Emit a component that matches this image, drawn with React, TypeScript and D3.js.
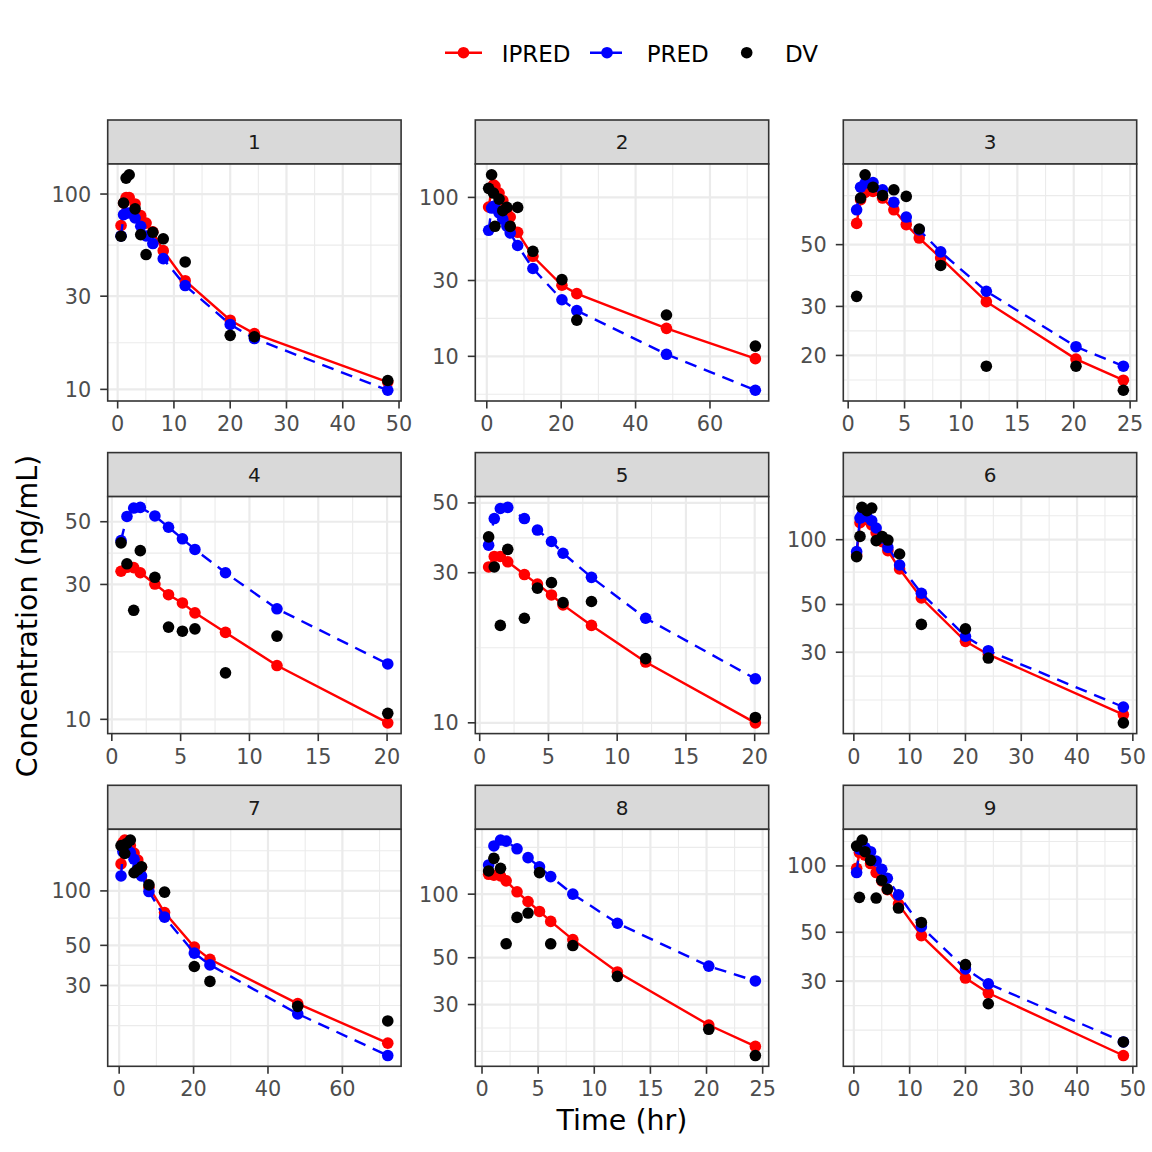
import React from "react";
import * as d3 from "d3";

// ---------------- data ----------------
const panelIds = ["1", "2", "3", "4", "5", "6", "7", "8", "9"];

const time1 = [0.6, 1.05, 1.5, 2.05, 3.1, 4.1, 5.05, 6.25, 8.1, 12, 20, 24.3, 48];
const dv1 = [60.8, 90, 120.7, 125.5, 84, 62, 49, 63.7, 59, 44.9, 18.9, 18.6, 11.1];
const ipred1 = [69, 90, 96, 96, 89, 77.5, 71, 64, 51.3, 36, 22.6, 19.3, 10.9];
const pred1 = [61, 78.4, 80, 80, 75.4, 68.4, 61, 55.8, 46.7, 34, 21.5, 18.2, 9.9];

const time2 = [0.5, 1.3, 1.8, 2.2, 3.3, 4.3, 5.4, 6.3, 8.3, 12.4, 20.2, 24.2, 48.3, 72.2];
const dv2 = [114, 138.8, 106.5, 65.8, 97.6, 82.5, 86.5, 65.7, 86.5, 45.8, 30.4, 16.9, 18.2, 11.6];
const ipred2 = [87, 112, 120, 118, 106.5, 95.7, 84, 75.3, 60.3, 42.6, 28.0, 24.8, 15.0, 9.67];
const pred2 = [62.1, 85.7, 88, 86, 80, 73, 66, 59.7, 49.8, 35.7, 22.7, 19.4, 10.3, 6.12];

const time3 = [0.75, 1.1, 1.5, 2.2, 3.05, 4.05, 5.15, 6.3, 8.2, 12.25, 20.2, 24.4];
const dv3 = [32.6, 73.5, 89.1, 80.4, 75.1, 78.7, 74.5, 56.9, 42.1, 18.3, 18.3, 15.0];
const ipred3 = [59.6, 72.5, 77, 77.6, 73.5, 66.7, 59, 52.8, 44.8, 31.2, 19.4, 16.3];
const pred3 = [66.7, 80.4, 83.2, 83.6, 78.7, 71, 62.8, 56.5, 47.1, 34, 21.5, 18.3];

const time4 = [0.67, 1.1, 1.59, 2.07, 3.13, 4.12, 5.13, 6.04, 8.26, 12.0, 20.05];
const dv4 = [42.1, 35.5, 24.3, 39.5, 31.8, 21.2, 20.5, 20.9, 14.6, 19.7, 10.5];
const ipred4 = [33.4, 34.5, 34.4, 33.0, 30.1, 27.6, 25.8, 23.8, 20.3, 15.5, 9.72];
const pred4 = [42.9, 52.2, 55.9, 56.2, 52.4, 47.8, 43.5, 39.9, 33.0, 24.6, 15.7];

const time5 = [0.65, 1.06, 1.5, 2.04, 3.25, 4.2, 5.22, 6.06, 8.13, 12.07, 20.05];
const dv5 = [39.0, 31.3, 20.4, 35.6, 21.5, 26.8, 27.9, 24.1, 24.3, 16.0, 10.4];
const ipred5 = [31.3, 33.8, 33.8, 32.5, 29.6, 27.6, 25.5, 23.7, 20.4, 15.6, 10.0];
const pred5 = [36.7, 44.6, 48.0, 48.4, 44.6, 41.0, 37.7, 34.6, 29.0, 21.5, 13.8];

const time6 = [0.5, 1.1, 1.45, 2.35, 3.2, 4.0, 5.1, 6.1, 8.2, 12.1, 20, 24.1, 48.3];
const dv6 = [83.4, 103.6, 141.3, 136.4, 140.3, 99, 103.3, 99.6, 85.8, 40.4, 38.5, 28.2, 14.1];
const ipred6 = [85, 120, 125, 124, 117, 108, 98, 88.9, 73.1, 53.6, 33.7, 29.3, 15.4];
const pred6 = [88, 126, 130, 128, 122.5, 113.3, 101.8, 92.1, 76.3, 56.4, 35.6, 30.5, 16.7];

const time7 = [0.5, 1, 1.5, 2, 3, 4, 5, 6, 8, 12.2, 20.2, 24.4, 48, 72.2];
const dv7 = [178, 176, 161, 183, 191, 126, 131, 136, 108, 98.4, 38.2, 31.6, 23.0, 19.1];
const ipred7 = [141, 185, 191, 188, 178, 162, 148, 135, 104.8, 75.9, 48.9, 41.9, 23.8, 14.4];
const pred7 = [121, 165, 175, 172, 163, 149.6, 135, 121, 99.2, 71.6, 45.3, 39.0, 20.9, 12.3];

const time8 = [0.59, 1.06, 1.65, 2.15, 3.12, 4.1, 5.12, 6.12, 8.09, 12.06, 20.2, 24.35];
const dv8 = [128.8, 147.8, 132.5, 58.2, 77.6, 81.4, 126.5, 58.2, 57.1, 40.8, 22.9, 17.2];
const ipred8 = [124.2, 123, 121.9, 115.6, 102.6, 92.3, 82.8, 74.3, 60.9, 42.8, 24.0, 19.0];
const pred8 = [137.5, 169.2, 180.4, 178.3, 164, 148.9, 134.6, 121.1, 100, 72.8, 45.6, 38.8];

const time9 = [0.5, 1, 1.5, 2, 3, 4, 5, 6, 8, 12.1, 20, 24.1, 48.3];
const dv9 = [123, 72, 131, 116, 106, 71.5, 86.1, 78.5, 64.4, 55.4, 35.7, 23.7, 15.9];
const ipred9 = [97.6, 115, 118, 112, 102.5, 93.3, 85.5, 78, 67.1, 48.3, 31.0, 26.5, 13.8];
const pred9 = [93.3, 119, 124, 121, 116, 105.3, 96.6, 87.9, 73.9, 53.0, 34.1, 29.2, 15.9];

const xTicks1 = [0, 10, 20, 30, 40, 50];
const xTicks2 = [0, 20, 40, 60];
const xTicks3 = [0, 5, 10, 15, 20, 25];
const xTicks4 = [0, 5, 10, 15, 20];
const xTicks5 = [0, 5, 10, 15, 20];
const xTicks6 = [0, 10, 20, 30, 40, 50];
const xTicks7 = [0, 20, 40, 60];
const xTicks8 = [0, 5, 10, 15, 20, 25];
const xTicks9 = [0, 10, 20, 30, 40, 50];

const yTicks1 = [10, 30, 100];
const yTicks2 = [10, 30, 100];
const yTicks3 = [20, 30, 50];
const yTicks4 = [10, 30, 50];
const yTicks5 = [10, 30, 50];
const yTicks6 = [30, 50, 100];
const yTicks7 = [30, 50, 100];
const yTicks8 = [30, 50, 100];
const yTicks9 = [30, 50, 100];

const seriesNames = ["IPRED", "PRED", "DV"];
const xTitle = "Time (hr)";
const yTitle = "Concentration (ng/mL)";

const allTimes = [time1, time2, time3, time4, time5, time6, time7, time8, time9];
const allDv = [dv1, dv2, dv3, dv4, dv5, dv6, dv7, dv8, dv9];
const allIpred = [ipred1, ipred2, ipred3, ipred4, ipred5, ipred6, ipred7, ipred8, ipred9];
const allPred = [pred1, pred2, pred3, pred4, pred5, pred6, pred7, pred8, pred9];
const allXTicks = [xTicks1, xTicks2, xTicks3, xTicks4, xTicks5, xTicks6, xTicks7, xTicks8, xTicks9];
const allYTicks = [yTicks1, yTicks2, yTicks3, yTicks4, yTicks5, yTicks6, yTicks7, yTicks8, yTicks9];

// ---------------- layout / style ----------------
const W = 1152;
const H = 1152;
const FONT = "DejaVu Sans, Verdana, sans-serif";
const colLeft = [107.7, 475.3, 843.3];
const rowTop = [120, 452.6, 785.3];
const panelW = 293.4;
const stripH = 44;
const panelH = 237;
const RED = "#FF0000";
const BLUE = "#0000FF";
const GRID = "#EBEBEB";
const DARK = "#333333";
const PT_R = 5.8;
const LINE_W = 2.4;
const DASH = "12,8";
const TICK_FS = 20.8;

function expandLinear(lo: number, hi: number): [number, number] {
  const d = (hi - lo) * 0.05;
  return [lo - d, hi + d];
}
function expandLog(lo: number, hi: number): [number, number] {
  const a = Math.log10(lo);
  const b = Math.log10(hi);
  const d = (b - a) * 0.05;
  return [Math.pow(10, a - d), Math.pow(10, b + d)];
}

// ggplot2-style regular minor breaks in transformed space
function minorBreaks(majors: number[], lo: number, hi: number, f: (v: number) => number, inv: (v: number) => number) {
  let b = majors.map(f);
  const flo = f(lo);
  const fhi = f(hi);
  b = b.filter((v) => v >= flo && v <= fhi);
  if (b.length < 2) return [] as number[];
  const bd = b[1] - b[0];
  if (flo < b[0]) b = [b[0] - bd, ...b];
  if (fhi > b[b.length - 1]) b = [...b, b[b.length - 1] + bd];
  const out: number[] = [];
  for (let i = 0; i < b.length - 1; i++) {
    out.push(b[i], (b[i] + b[i + 1]) / 2);
  }
  out.push(b[b.length - 1]);
  const majT = majors.map(f);
  return out
    .filter((v) => v > flo && v < fhi && !majT.some((m) => Math.abs(m - v) < 1e-9))
    .map(inv);
}

function Panel({ idx }: { idx: number }) {
  const r = Math.floor(idx / 3);
  const c = idx % 3;
  const x0 = colLeft[c];
  const sTop = rowTop[r];
  const y0 = sTop + stripH;
  const t = allTimes[idx];
  const dv = allDv[idx];
  const ip = allIpred[idx];
  const pr = allPred[idx];
  const xt = allXTicks[idx];
  const yt = allYTicks[idx];

  const [tmin, tmax] = d3.extent(t) as [number, number];
  const allY = [...dv, ...ip, ...pr];
  const ymin = d3.min(allY) as number;
  const ymax = d3.max(allY) as number;
  const xd = expandLinear(tmin, tmax);
  const yd = expandLog(ymin, ymax);
  const x = d3.scaleLinear().domain(xd).range([x0, x0 + panelW]);
  const y = d3.scaleLog().domain(yd).range([y0 + panelH, y0]);

  const xMinor = minorBreaks(xt, xd[0], xd[1], (v) => v, (v) => v);
  const yMinor = minorBreaks(yt, yd[0], yd[1], Math.log10, (v) => Math.pow(10, v));
  const xMajor = xt.filter((v) => v >= xd[0] && v <= xd[1]);
  const yMajor = yt.filter((v) => v >= yd[0] && v <= yd[1]);

  const line = d3
    .line<[number, number]>()
    .x((d) => x(d[0]))
    .y((d) => y(d[1]));
  const ipPts: [number, number][] = t.map((v, i) => [v, ip[i]]);
  const prPts: [number, number][] = t.map((v, i) => [v, pr[i]]);
  const dvPts: [number, number][] = t.map((v, i) => [v, dv[i]]);

  const bottom = y0 + panelH;
  return (
    <g>
      {/* strip */}
      <rect x={x0} y={sTop} width={panelW} height={stripH} fill="#D9D9D9" stroke={DARK} strokeWidth={1.6} />
      <text
        x={x0 + panelW / 2}
        y={sTop + stripH / 2}
        dy="0.36em"
        textAnchor="middle"
        fontFamily={FONT}
        fontSize={20}
        fill="#1A1A1A"
      >
        {panelIds[idx]}
      </text>
      {/* panel background */}
      <rect x={x0} y={y0} width={panelW} height={panelH} fill="#FFFFFF" />
      {/* grid */}
      {yMinor.map((v, i) => (
        <line key={"ym" + i} x1={x0} x2={x0 + panelW} y1={y(v)} y2={y(v)} stroke={GRID} strokeWidth={1.1} />
      ))}
      {xMinor.map((v, i) => (
        <line key={"xm" + i} x1={x(v)} x2={x(v)} y1={y0} y2={bottom} stroke={GRID} strokeWidth={1.1} />
      ))}
      {yMajor.map((v, i) => (
        <line key={"yM" + i} x1={x0} x2={x0 + panelW} y1={y(v)} y2={y(v)} stroke={GRID} strokeWidth={2.2} />
      ))}
      {xMajor.map((v, i) => (
        <line key={"xM" + i} x1={x(v)} x2={x(v)} y1={y0} y2={bottom} stroke={GRID} strokeWidth={2.2} />
      ))}
      {/* IPRED */}
      <path d={line(ipPts) || ""} fill="none" stroke={RED} strokeWidth={LINE_W} />
      {ipPts.map((d, i) => (
        <circle key={"ip" + i} cx={x(d[0])} cy={y(d[1])} r={PT_R} fill={RED} />
      ))}
      {/* PRED */}
      <path d={line(prPts) || ""} fill="none" stroke={BLUE} strokeWidth={LINE_W} strokeDasharray={DASH} />
      {prPts.map((d, i) => (
        <circle key={"pr" + i} cx={x(d[0])} cy={y(d[1])} r={PT_R} fill={BLUE} />
      ))}
      {/* DV */}
      {dvPts.map((d, i) => (
        <circle key={"dv" + i} cx={x(d[0])} cy={y(d[1])} r={PT_R} fill="#000000" />
      ))}
      {/* border */}
      <rect x={x0} y={y0} width={panelW} height={panelH} fill="none" stroke={DARK} strokeWidth={1.6} />
      {/* x axis */}
      {xMajor.map((v, i) => (
        <g key={"xt" + i}>
          <line x1={x(v)} x2={x(v)} y1={bottom} y2={bottom + 7.5} stroke={DARK} strokeWidth={1.6} />
          <text
            x={x(v)}
            y={bottom + 30}
            textAnchor="middle"
            fontFamily={FONT}
            fontSize={TICK_FS}
            fill="#4D4D4D"
          >
            {String(v)}
          </text>
        </g>
      ))}
      {/* y axis */}
      {yMajor.map((v, i) => (
        <g key={"yt" + i}>
          <line x1={x0 - 7.5} x2={x0} y1={y(v)} y2={y(v)} stroke={DARK} strokeWidth={1.6} />
          <text
            x={x0 - 16.5}
            y={y(v)}
            dy="0.36em"
            textAnchor="end"
            fontFamily={FONT}
            fontSize={TICK_FS}
            fill="#4D4D4D"
          >
            {String(v)}
          </text>
        </g>
      ))}
    </g>
  );
}

function Legend() {
  const ky = 52.7;
  const keys = [
    { x1: 445, x2: 482, cx: 463.5, tx: 501.7, color: RED, dash: undefined as string | undefined, line: true },
    { x1: 590, x2: 624, cx: 607, tx: 646.7, color: BLUE, dash: DASH, line: true },
    { x1: 0, x2: 0, cx: 746.7, tx: 785, color: "#000000", dash: undefined, line: false },
  ];
  return (
    <g>
      {keys.map((k, i) => (
        <g key={i}>
          {k.line && (
            <line x1={k.x1} x2={k.x2} y1={ky} y2={ky} stroke={k.color} strokeWidth={LINE_W} strokeDasharray={k.dash} />
          )}
          <circle cx={k.cx} cy={ky} r={PT_R} fill={k.color} />
          <text x={k.tx} y={62} fontFamily={FONT} fontSize={23} fill="#000000">
            {seriesNames[i]}
          </text>
        </g>
      ))}
    </g>
  );
}

export default function App() {
  return (
    <svg
      width={W}
      height={H}
      viewBox={`0 0 ${W} ${H}`}
      style={{ position: "absolute", left: 0, top: 0, background: "#FFFFFF" }}
    >
      <rect x={0} y={0} width={W} height={H} fill="#FFFFFF" />
      <Legend />
      {panelIds.map((_, i) => (
        <Panel key={i} idx={i} />
      ))}
      <text x={622} y={1130} textAnchor="middle" fontFamily={FONT} fontSize={28.5} fill="#000000">
        {xTitle}
      </text>
      <text
        transform="translate(37,616) rotate(-90)"
        textAnchor="middle"
        fontFamily={FONT}
        fontSize={28.5}
        fill="#000000"
      >
        {yTitle}
      </text>
    </svg>
  );
}
